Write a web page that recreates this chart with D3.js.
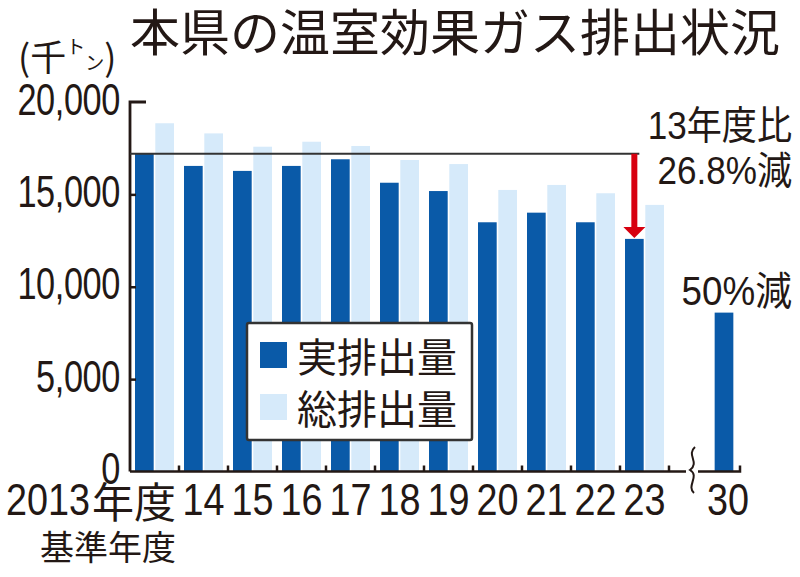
<!DOCTYPE html>
<html><head><meta charset="utf-8">
<script src="https://cdn.jsdelivr.net/npm/d3@7"></script>
<style>
html,body{margin:0;padding:0;background:#fff;}
svg{display:block;}
</style>
</head><body>
<svg id="chart" width="800" height="577"></svg>
<script>
// ---- data ----
const categories = ["2013","14","15","16","17","18","19","20","21","22","23"];
const actualValues = [17200,16540,16270,16540,16900,15630,15180,13490,14010,13490,12590];
const totalValues  = [18850,18300,17580,17850,17620,16860,16640,15240,15510,15060,14430];
const targetCategories = ["30"];
const targetActual = [8600];
const seriesNames = ["実排出量","総排出量"];
const yTicks = [0,5000,10000,15000,20000];
const title = "本県の温室効果ガス排出状況";
const note1 = ["13年度比","26.8%減"];
const note2 = "50%減";

// ---- styles ----
const DARK = "#0a5aa8", LIGHT = "#d6eafa", RED = "#d7000f", INK = "#231815";
const NUM = "'Liberation Sans','Arial',sans-serif";
const JP = "'Noto Sans CJK JP','Noto Sans',sans-serif";
const MIX = "'Liberation Sans','Noto Sans CJK JP',sans-serif";

const svg = d3.select("#chart");
const y = d3.scaleLinear().domain([0,20000]).range([471.5,102]);
const x0 = d3.scaleBand().domain(categories).range([130,669]).padding(0);
const x1 = d3.scaleBand().domain(seriesNames).range([5,44]).paddingInner(0.08);
const xT = d3.scaleBand().domain(targetCategories).range([700,748]);

// helper: horizontally condensed text
function condensed(sel, sx){
  return sel.attr("transform", function(){ const t=d3.select(this); return `translate(${t.attr("data-x")},${t.attr("data-y")}) scale(${sx},1)`; });
}

// title
svg.append("text").attr("x",130).attr("y",29).attr("dominant-baseline","central")
  .attr("font-family",JP).attr("font-size",50).attr("fill",INK)
  .attr("textLength",650).attr("lengthAdjust","spacingAndGlyphs").text(title);

// unit
const unit = svg.append("text").attr("x",18).attr("y",55).attr("dominant-baseline","central")
  .attr("font-family",JP).attr("fill",INK);
unit.append("tspan").attr("font-size",36).text("(千");
unit.append("tspan").attr("font-size",19).attr("dy",-10).text("ト");
unit.append("tspan").attr("font-size",19).attr("dy",16).text("ン");
unit.append("tspan").attr("font-size",36).attr("dy",-6).text(")");

// bars
const groups = svg.append("g").selectAll("g").data(categories).join("g")
  .attr("transform",d=>`translate(${x0(d)},0)`);
groups.append("rect")
  .attr("x",x1(seriesNames[1])).attr("width",x1.bandwidth())
  .attr("y",(d,i)=>y(totalValues[i])).attr("height",(d,i)=>y(0)-y(totalValues[i]))
  .attr("fill",LIGHT);
groups.append("rect")
  .attr("x",x1(seriesNames[0])).attr("width",x1.bandwidth())
  .attr("y",(d,i)=>y(actualValues[i])).attr("height",(d,i)=>y(0)-y(actualValues[i]))
  .attr("fill",DARK);

// target bar
svg.append("g").selectAll("rect").data(targetCategories).join("rect")
  .attr("x",d=>xT(d)+xT.bandwidth()/2-x1.bandwidth()/2).attr("width",x1.bandwidth())
  .attr("y",(d,i)=>y(targetActual[i])).attr("height",(d,i)=>y(0)-y(targetActual[i]))
  .attr("fill",DARK);

// y axis
const yAxis = d3.axisRight(y).tickValues(yTicks.filter(v=>v>0 && v<20000)).tickSize(6).tickFormat("");
const ga = svg.append("g").attr("transform","translate(130,0)").call(yAxis);
ga.select(".domain").remove();
ga.selectAll(".tick line").attr("stroke",INK).attr("stroke-width",2.5);
svg.append("path").attr("d",`M146,${y(20000)}H130V${y(0)}`).attr("fill","none")
  .attr("stroke",INK).attr("stroke-width",2.8);
svg.append("g").selectAll("text").data(yTicks).join("text")
  .attr("data-x",120).attr("data-y",d=>y(d)-3).attr("text-anchor","end").attr("dominant-baseline","central")
  .attr("font-family",NUM).attr("font-size",44).attr("letter-spacing",-0.5).attr("fill",INK)
  .text(d=>d3.format(",")(d)).call(condensed,0.78);

// baseline with break
const by = y(0);
svg.append("path").attr("d",`M130,${by}H686`).attr("stroke",INK).attr("stroke-width",2.5).attr("fill","none");
svg.append("path").attr("d",`M698,${by}H740V${by-6}`).attr("stroke",INK).attr("stroke-width",2.5).attr("fill","none");
svg.append("path").attr("d",`M695,447 C686,455 700,462 690,470 C700,476 686,486 694,493`)
  .attr("stroke",INK).attr("stroke-width",2).attr("fill","none");
svg.append("g").selectAll("line").data(categories).join("line")
  .attr("x1",d=>x0(d)+x0.bandwidth()).attr("x2",d=>x0(d)+x0.bandwidth())
  .attr("y1",by).attr("y2",by-6).attr("stroke",INK).attr("stroke-width",2.5);

// x labels
const firstRight = x0(categories[0])+x0.bandwidth()-3;
svg.append("text").attr("x",firstRight).attr("y",499).attr("text-anchor","end").attr("dominant-baseline","central")
  .attr("font-family",JP).attr("font-size",42).attr("fill",INK).text("年度");
svg.append("g").selectAll("text").data(categories).join("text")
  .attr("data-x",(d,i)=> i===0 ? firstRight-86 : x0(d)+x0.bandwidth()/2)
  .attr("data-y",499).attr("dominant-baseline","central")
  .attr("text-anchor",(d,i)=> i===0 ? "end" : "middle")
  .attr("font-family",NUM).attr("font-size",45).attr("fill",INK)
  .text(d=>d).call(condensed,0.84);
svg.append("text").attr("x",firstRight).attr("y",545)
  .attr("text-anchor","end").attr("dominant-baseline","central")
  .attr("font-family",JP).attr("font-size",34).attr("fill",INK).text("基準年度");
svg.append("g").selectAll("text").data(targetCategories).join("text")
  .attr("data-x",d=>xT(d)+xT.bandwidth()/2+4).attr("data-y",499).attr("text-anchor","middle").attr("dominant-baseline","central")
  .attr("font-family",NUM).attr("font-size",45).attr("fill",INK).text(d=>d).call(condensed,0.84);

// reference line + arrow
const last = categories[categories.length-1];
const ax = x0(last)+x1(seriesNames[0])+x1.bandwidth()/2;
svg.append("path").attr("d",`M130,${y(actualValues[0])}H${ax+5}`).attr("stroke","#333").attr("stroke-width",2).attr("fill","none");
svg.append("line").attr("x1",ax).attr("x2",ax).attr("y1",y(actualValues[0])).attr("y2",y(actualValues[10])-9)
  .attr("stroke",RED).attr("stroke-width",6);
svg.append("path").attr("d",`M${ax-11},${y(actualValues[10])-12}L${ax+11},${y(actualValues[10])-12}L${ax},${y(actualValues[10])-1}Z`).attr("fill",RED);

// annotations
svg.append("g").selectAll("text").data(note1).join("text")
  .attr("data-x",792).attr("data-y",(d,i)=>125+i*45).attr("text-anchor","end").attr("dominant-baseline","central")
  .attr("font-family",MIX).attr("font-size",39).attr("fill",INK).text(d=>d).call(condensed,0.9);
svg.append("text").attr("data-x",792).attr("data-y",291).attr("text-anchor","end").attr("dominant-baseline","central")
  .attr("font-family",MIX).attr("font-size",40).attr("fill",INK).text(note2).call(condensed,0.92);

// legend
const lg = svg.append("g");
lg.append("rect").attr("x",247).attr("y",323).attr("width",225).attr("height",117).attr("rx",2)
  .attr("fill","#fff").attr("stroke","#333").attr("stroke-width",2.5);
const items = lg.selectAll("g").data(seriesNames).join("g").attr("transform",(d,i)=>`translate(260,${342+i*52})`);
items.append("rect").attr("width",27).attr("height",26).attr("fill",(d,i)=>i===0?DARK:LIGHT);
items.append("text").attr("x",37).attr("y",13).attr("dominant-baseline","central")
  .attr("font-family",JP).attr("font-size",40).attr("fill",INK).text(d=>d);
</script>
</body></html>
